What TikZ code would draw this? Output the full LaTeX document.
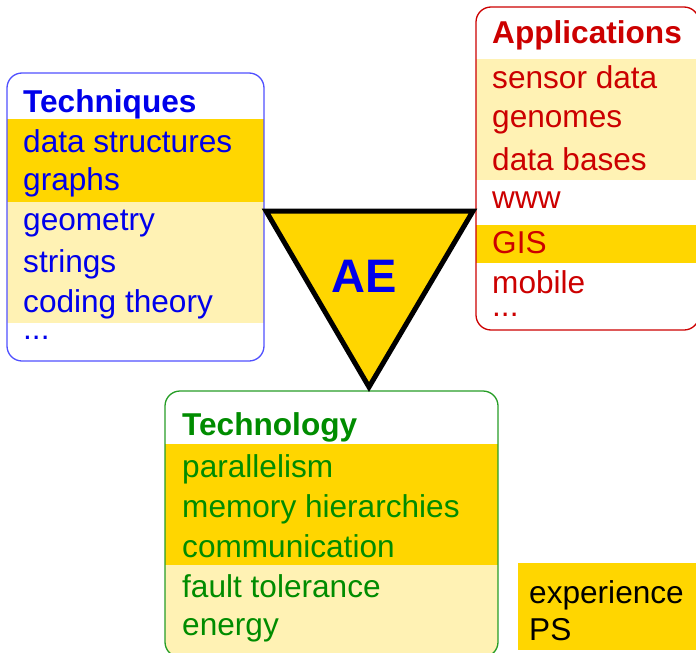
\documentclass[tikz,border=0pt]{standalone}
\usepackage{fontspec}
\setmainfont{Liberation Sans}
\definecolor{gold}{RGB}{255,214,0}
\definecolor{paleyellow}{RGB}{255,242,180}
\definecolor{techblue}{RGB}{0,0,235}
\definecolor{techframe}{RGB}{80,80,255}
\definecolor{appred}{RGB}{204,0,0}
\definecolor{techgreen}{RGB}{0,140,0}
\tikzset{
  entry/.style={anchor=base west, inner sep=0pt, font=\fontsize{31.6}{38}\selectfont},
  title/.style={entry, font=\fontsize{31.6}{38}\selectfont\bfseries},
  frame/.style={rounded corners=15pt, line width=1.3pt},
}
\begin{document}
\begin{tikzpicture}[x=1pt,y=-1pt]
 \useasboundingbox (0,0) rectangle (696,653);

 % Techniques
 \begin{scope}
  \clip[rounded corners=15pt] (7,73) rectangle (264,361);
  \fill[gold] (7,119) rectangle (264,202);
  \fill[paleyellow] (7,202) rectangle (264,323);
 \end{scope}
 \draw[frame, techframe] (7,73) rectangle (264,361);
 \node[title, techblue] (tech) at (23,112) {Techniques};
 \node[entry, techblue] (ds) at (23,152) {data structures};
 \node[entry, techblue] (gr) at (23,190) {graphs};
 \node[entry, techblue] (geo) at (23,230) {geometry};
 \node[entry, techblue] (str) at (23,272) {strings};
 \node[entry, techblue] (cod) at (23,312) {coding theory};
 \node[entry, techblue] (tdots) at (23,339) {...};

 % Applications
 \begin{scope}
  \clip[rounded corners=15pt] (476,7) rectangle (699,330);
  \fill[paleyellow] (476,59) rectangle (699,180);
  \fill[gold] (476,225) rectangle (699,263);
 \end{scope}
 \draw[frame, appred] (476,7) rectangle (699,330);
 \node[title, appred] (app) at (492,43) {Applications};
 \node[entry, appred] (sen) at (492,88) {sensor data};
 \node[entry, appred] (gen) at (492,127) {genomes};
 \node[entry, appred] (db) at (492,170) {data bases};
 \node[entry, appred] (www) at (492,208) {www};
 \node[entry, appred] (gis) at (492,253) {GIS};
 \node[entry, appred] (mob) at (492,293) {mobile};
 \node[entry, appred] (adots) at (492,316) {...};

 % Technology
 \begin{scope}
  \clip[rounded corners=15pt] (165,391) rectangle (498,657);
  \fill[gold] (165,444) rectangle (498,565);
  \fill[paleyellow] (165,565) rectangle (498,657);
 \end{scope}
 \draw[frame, techgreen!85!white] (165,391) rectangle (498,657);
 \node[title, techgreen] (tec) at (182,435) {Technology};
 \node[entry, techgreen] (par) at (182,477) {parallelism};
 \node[entry, techgreen] (mem) at (182,517) {memory hierarchies};
 \node[entry, techgreen] (com) at (182,557) {communication};
 \node[entry, techgreen] (fau) at (182,597) {fault tolerance};
 \node[entry, techgreen] (ene) at (182,635) {energy};

 % AE triangle
 \draw[fill=gold, line width=5pt, line join=miter] (266,211) -- (473,211) -- (369,387) -- cycle;
 \node[font=\fontsize{47}{50}\selectfont\bfseries, techblue, inner sep=0pt] (ae) at (364,276) {AE};

 % experience
 \fill[gold] (518,563) rectangle (700,650);
 \node[entry] (exp) at (529,603) {experience};
 \node[entry] (ps) at (529,640) {PS};
\end{tikzpicture}
\end{document}
